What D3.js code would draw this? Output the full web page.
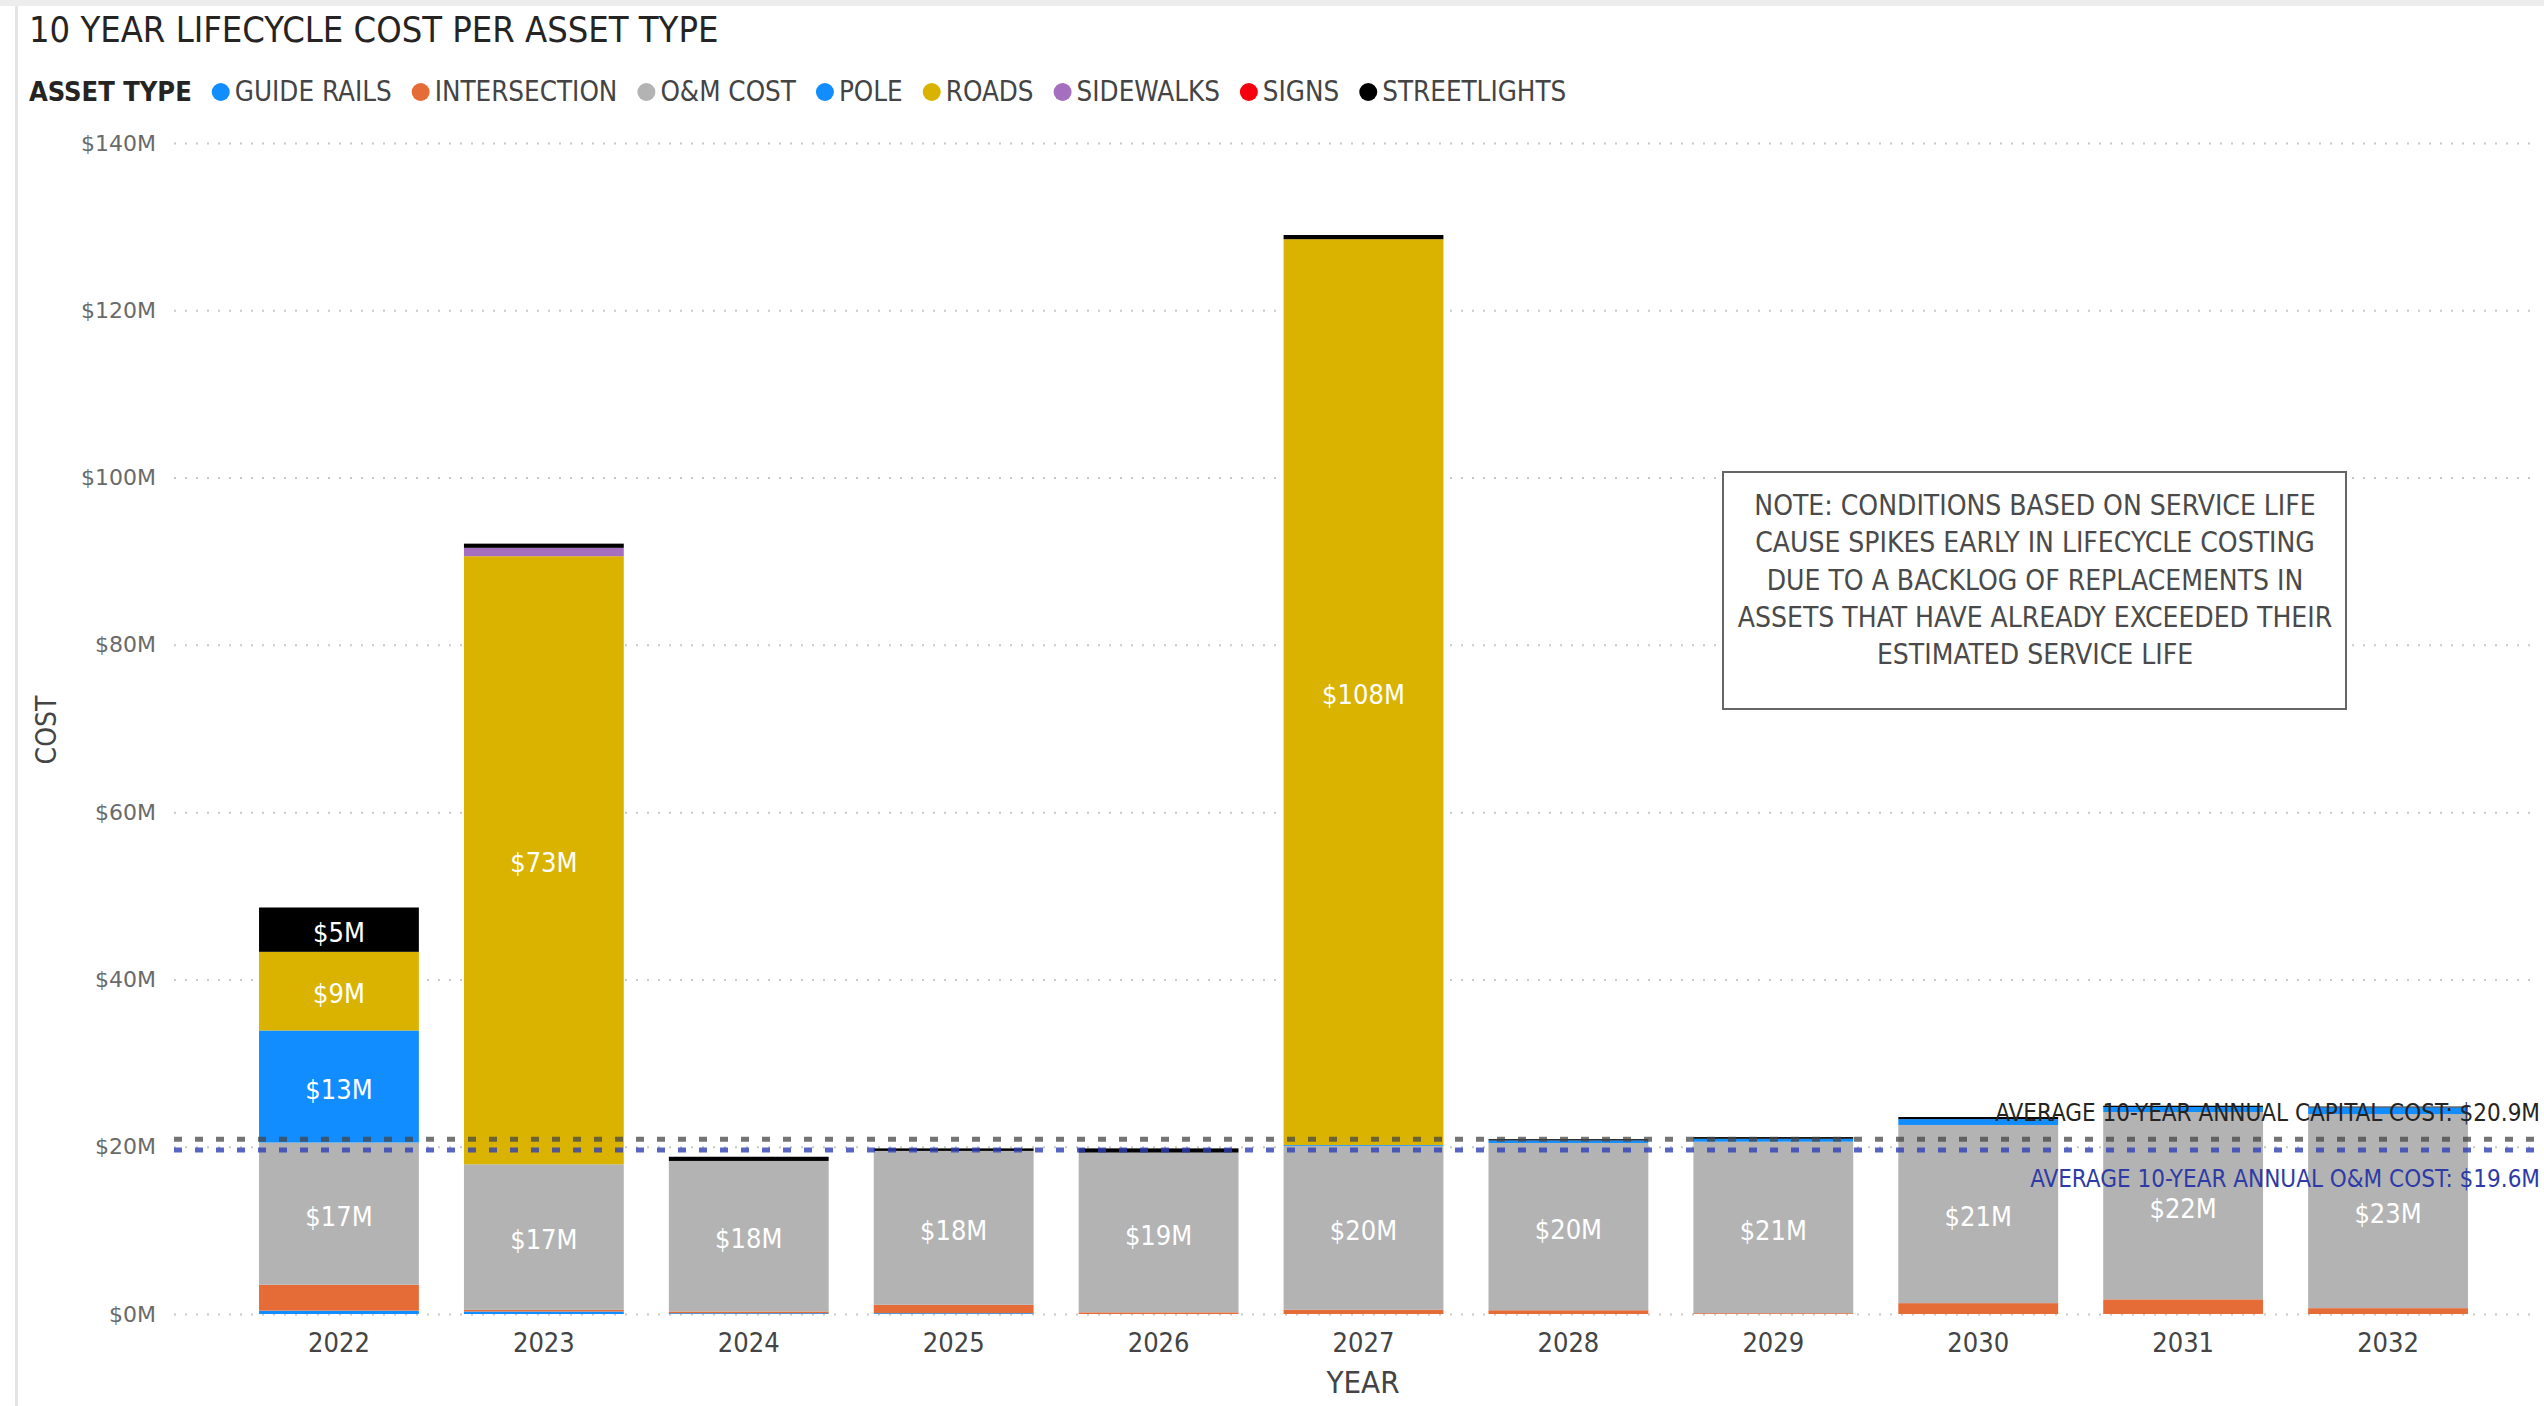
<!DOCTYPE html>
<html>
  <head>
    <meta charset="utf-8">
    <style>
    body { margin: 0; background: #fff; }
    svg { display: block; }
    .narrow { font-family: "Liberation Sans Narrow", "DejaVu Sans Condensed", sans-serif; }
    .y-axis text { font-family: "DejaVu Sans", sans-serif; font-size: 22px; fill: #6a6a6a; }
    .x-axis text { font-family: "Liberation Sans Narrow", "DejaVu Sans Condensed", sans-serif; font-size: 27px; fill: #444; }
    .grid line { stroke: #c8c8c8; stroke-width: 2px; stroke-dasharray: 2,9; }
    </style>
  </head>
  <body>
    <div id="chart-area"></div>

    <script src="https://d3js.org/d3.v7.min.js"></script>
    <script>
      // data ($M)
      const years = ["2022", "2023", "2024", "2025", "2026", "2027", "2028", "2029", "2030", "2031", "2032"];
      const assetTypes = ["GUIDE RAILS", "INTERSECTION", "O&M COST", "POLE", "ROADS", "SIDEWALKS", "SIGNS", "STREETLIGHTS"];
      const guideRails   = [0.4, 0.3, 0.1, 0.1, 0, 0, 0, 0, 0, 0, 0];
      const intersection = [3.1, 0.2, 0.2, 1.0, 0.2, 0.5, 0.45, 0.1, 1.3, 1.75, 0.7];
      const omCost       = [17.0, 17.4, 18.0, 18.4, 19.1, 19.6, 20.0, 20.5, 21.3, 22.4, 23.2];
      const pole         = [13.4, 0, 0, 0, 0, 0.1, 0.3, 0.35, 0.7, 0.6, 0.8];
      const roads        = [9.4, 72.7, 0, 0, 0, 108.3, 0, 0, 0, 0, 0];
      const sidewalks    = [0, 1.0, 0, 0, 0, 0, 0, 0, 0, 0, 0];
      const signs        = [0, 0, 0, 0, 0, 0, 0, 0, 0, 0, 0];
      const streetlights = [5.3, 0.5, 0.5, 0.3, 0.5, 0.5, 0.15, 0.2, 0.25, 0.15, 0.1];
      const yTicks = [0, 20, 40, 60, 80, 100, 120, 140];
      const averages = [
        { name: "AVERAGE 10-YEAR ANNUAL CAPITAL COST", value: 20.9 },
        { name: "AVERAGE 10-YEAR ANNUAL O&M COST", value: 19.6 }
      ];
      const noteLines = [
        "NOTE: CONDITIONS BASED ON SERVICE LIFE",
        "CAUSE SPIKES EARLY IN LIFECYCLE COSTING",
        "DUE TO A BACKLOG OF REPLACEMENTS IN",
        "ASSETS THAT HAVE ALREADY EXCEEDED THEIR",
        "ESTIMATED SERVICE LIFE"
      ];

      const seriesValues = [guideRails, intersection, omCost, pole, roads, sidewalks, signs, streetlights];
      const colors = ["#118DFF", "#E66C37", "#B3B3B3", "#118DFF", "#D9B300", "#A66EBE", "#F5000F", "#000000"];

      const width = 2544;
      const height = 1406;
      const gridLeft = 174;
      const gridRight = 2539;

      const svg = d3.select("#chart-area")
        .append("svg")
          .attr("width", width)
          .attr("height", height);

      // card frame
      svg.append("rect").attr("x", 0).attr("y", 0).attr("width", width).attr("height", 6).attr("fill", "#ededed");
      svg.append("rect").attr("x", 15).attr("y", 6).attr("width", 3).attr("height", height).attr("fill", "#e4e4e4");

      const x = d3.scaleBand()
        .domain(years)
        .range([236.5, 2490.5])
        .paddingInner(0.22)
        .paddingOuter(0.11);

      const y = d3.scaleLinear()
        .domain([0, 140])
        .range([1314, 143]);

      // title
      svg.append("text")
        .attr("class", "narrow")
        .attr("x", 29)
        .attr("y", 42)
        .attr("font-size", 36)
        .attr("fill", "#252423")
        .text("10 YEAR LIFECYCLE COST PER ASSET TYPE");

      // legend
      const legend = svg.append("g").attr("class", "narrow").attr("transform", "translate(29, 92)");
      const legTitle = legend.append("text")
        .attr("y", 9)
        .attr("font-size", 27)
        .attr("font-weight", "bold")
        .attr("fill", "#252423")
        .text("ASSET TYPE");
      let lx = legTitle.node().getComputedTextLength() + 20;
      assetTypes.forEach((name, i) => {
        legend.append("circle")
          .attr("cx", lx + 9)
          .attr("cy", 0)
          .attr("r", 9)
          .attr("fill", colors[i]);
        const t = legend.append("text")
          .attr("x", lx + 23)
          .attr("y", 9)
          .attr("font-size", 27.5)
          .attr("fill", "#444")
          .text(name);
        lx += 23 + t.node().getComputedTextLength() + 20;
      });

      // y grid + labels
      svg.append("g")
        .attr("class", "y-axis grid")
        .attr("transform", `translate(${gridLeft}, 0)`)
        .call(d3.axisLeft(y)
          .tickValues(yTicks)
          .tickSize(-(gridRight - gridLeft))
          .tickPadding(18)
          .tickFormat(d => "$" + d + "M"))
        .call(g => g.select(".domain").remove());

      // x axis
      svg.append("g")
        .attr("class", "x-axis")
        .attr("transform", `translate(0, ${y(0)})`)
        .call(d3.axisBottom(x).tickSize(0).tickPadding(19))
        .call(g => g.select(".domain").remove());

      // axis titles
      svg.append("text")
        .attr("class", "narrow")
        .attr("transform", "translate(56, 730) rotate(-90)")
        .attr("text-anchor", "middle")
        .attr("font-size", 28)
        .attr("fill", "#444")
        .text("COST");

      svg.append("text")
        .attr("class", "narrow")
        .attr("x", 1363)
        .attr("y", 1393)
        .attr("text-anchor", "middle")
        .attr("font-size", 31)
        .attr("fill", "#444")
        .text("YEAR");

      // stacked bars
      const rows = years.map((yr, i) => {
        const row = { year: yr };
        assetTypes.forEach((k, j) => { row[k] = seriesValues[j][i]; });
        return row;
      });

      const stacked = d3.stack().keys(assetTypes)(rows);

      const layers = svg.append("g").selectAll("g")
        .data(stacked)
        .enter().append("g")
          .attr("fill", (d, i) => colors[i]);

      layers.selectAll("rect")
        .data(d => d)
        .enter().append("rect")
          .attr("x", d => x(d.data.year))
          .attr("width", x.bandwidth())
          .attr("y", d => y(d[1]))
          .attr("height", d => y(d[0]) - y(d[1]));

      // data labels on big segments
      const labels = svg.append("g").attr("class", "narrow");
      stacked.forEach(layer => {
        layer.forEach(d => {
          const v = d[1] - d[0];
          if (v < 4) return;
          labels.append("text")
            .attr("x", x(d.data.year) + x.bandwidth() / 2)
            .attr("y", y((d[0] + d[1]) / 2))
            .attr("dy", "0.45em")
            .attr("text-anchor", "middle")
            .attr("font-size", 27)
            .attr("fill", "#fff")
            .text("$" + Math.round(v) + "M");
        });
      });

      // average reference lines
      const lineStyles = [
        { stroke: "rgba(70,70,70,0.75)", text: "#252423", dy: -18 },
        { stroke: "rgba(48,62,180,0.8)", text: "#2E3BA6", dy: 37 }
      ];
      averages.forEach((a, i) => {
        svg.append("line")
          .attr("x1", gridLeft)
          .attr("x2", gridRight)
          .attr("y1", y(a.value))
          .attr("y2", y(a.value))
          .attr("stroke", lineStyles[i].stroke)
          .attr("stroke-width", 5)
          .attr("stroke-dasharray", "8,13");
        svg.append("text")
          .attr("class", "narrow")
          .attr("x", 2540)
          .attr("y", y(a.value) + lineStyles[i].dy)
          .attr("text-anchor", "end")
          .attr("font-size", 24)
          .attr("fill", lineStyles[i].text)
          .text(a.name + ": $" + a.value + "M");
      });

      // note box
      svg.append("rect")
        .attr("x", 1723)
        .attr("y", 472)
        .attr("width", 623)
        .attr("height", 237)
        .attr("fill", "#fff")
        .attr("stroke", "#666")
        .attr("stroke-width", 2);

      svg.append("g").attr("class", "narrow")
        .selectAll("text")
        .data(noteLines)
        .enter().append("text")
          .attr("x", 2035)
          .attr("y", (d, i) => 515 + i * 37.3)
          .attr("text-anchor", "middle")
          .attr("font-size", 28)
          .attr("fill", "#4a4a4a")
          .text(d => d);
    </script>
  </body>
</html>
